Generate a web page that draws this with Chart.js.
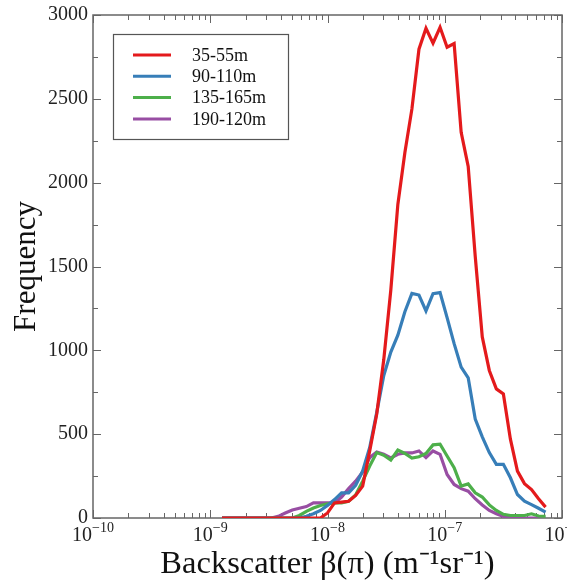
<!DOCTYPE html>
<html>
<head>
<meta charset="utf-8">
<script src="https://cdn.jsdelivr.net/npm/chart.js@4.4.0/dist/chart.umd.min.js"></script>
<style>
  html, body { margin: 0; padding: 0; background: #fff; }
  #wrap { position: relative; width: 567px; height: 585px; }
</style>
</head>
<body>
<div id="wrap"><canvas id="chart"></canvas></div>
<script>
// bin centres, as log10 of backscatter
const binExp = [
  -9.02, -8.96, -8.90, -8.84, -8.78, -8.72, -8.66, -8.60, -8.54, -8.48,
  -8.42, -8.36, -8.30, -8.24, -8.18, -8.12, -8.06, -8.00, -7.94, -7.88,
  -7.82, -7.76, -7.70, -7.64, -7.58, -7.52, -7.46, -7.40, -7.34, -7.28,
  -7.22, -7.16, -7.10, -7.04, -6.98, -6.92, -6.86, -6.80, -6.74, -6.68,
  -6.62, -6.56, -6.50, -6.44, -6.38, -6.32, -6.26, -6.20, -6.14, -6.08
];

const seriesNames = ["35-55m", "90-110m", "135-165m", "190-120m"];
const seriesColors = ["#e41a1c", "#377eb8", "#4daf4a", "#984ea3"];

const freq35 = [
  null, null, 0, 0, 0, 0, 0, 0, 0, 0,
  0, 0, 0, 0, 0, 0, 0, 30, 90, 95,
  100, 135, 190, 400, 620, 945, 1360, 1870, 2180, 2440,
  2796, 2921, 2832, 2927, 2808, 2830, 2300, 2097, 1560, 1080,
  880, 770, 740, 470, 280, 205, 170, 115, 65, null
];
const freq90 = [
  null, null, 0, 0, 0, 0, 0, 0, 0, 0,
  0, 0, 0, 0, 10, 25, 45, 75, 110, 150,
  150, 195, 280, 420, 630, 850, 990, 1090, 1230, 1340,
  1330, 1235, 1338, 1344, 1195, 1040, 900, 836, 590, 484,
  390, 320, 320, 240, 140, 100, 80, 58, 35, null
];
const freq135 = [
  null, null, 0, 0, 0, 0, 0, 0, 0, 0,
  0, 0, 0, 15, 40, 60, 75, 85, 90, 90,
  100, 137, 220, 310, 390, 375, 346, 405, 385, 358,
  365, 385, 436, 440, 370, 300, 190, 203, 150, 125,
  78, 45, 22, 15, 15, 15, 25, 12, 10, null
];
const freq190 = [
  null, null, 0, 0, 0, 0, 0, 0, 0, 0,
  10, 30, 48, 58, 68, 90, 90, 90, 90, 125,
  175, 220, 275, 360, 394, 380, 358, 380, 388, 388,
  400, 360, 400, 380, 260, 200, 175, 160, 115, 78,
  45, 25, 10, 5, 0, 0, 0, 0, 0, null
];

const xDecades = [-10, -9, -8, -7, -6];
const yTickValues = [0, 500, 1000, 1500, 2000, 2500, 3000];

const serif = "'Liberation Serif', 'Times New Roman', serif";

const toPoints = (vals) => binExp.map((e, i) => ({ x: Math.pow(10, e), y: vals[i] }));

const allSeries = [freq35, freq90, freq135, freq190];

// box round the plot with inward ticks on every side
const frameTicks = {
  id: "frameTicks",
  beforeDatasetsDraw(chart) {
    const { ctx, chartArea: a, scales } = chart;
    const xs = scales.x, ys = scales.y;
    ctx.save();
    ctx.strokeStyle = "#666";
    ctx.lineWidth = 1.5;
    ctx.strokeRect(a.left, a.top, a.right - a.left, a.bottom - a.top);
    ctx.lineWidth = 1;
    ctx.beginPath();
    xDecades.forEach((e) => {
      for (let m = 1; m <= 9; m++) {
        const v = m * Math.pow(10, e);
        if (v > Math.pow(10, -6) * 1.0001) continue;
        const px = Math.round(xs.getPixelForValue(v)) + 0.5;
        const len = m === 1 ? 8 : 5;
        ctx.moveTo(px, a.bottom); ctx.lineTo(px, a.bottom - len);
        ctx.moveTo(px, a.top); ctx.lineTo(px, a.top + len);
      }
    });
    for (let v = 0; v <= 3000; v += 250) {
      const py = Math.round(ys.getPixelForValue(v)) + 0.5;
      const len = v % 500 === 0 ? 8 : 5;
      ctx.moveTo(a.left, py); ctx.lineTo(a.left + len, py);
      ctx.moveTo(a.right, py); ctx.lineTo(a.right - len, py);
    }
    ctx.stroke();

    // x tick labels as 10 with a raised exponent
    ctx.fillStyle = "#222";
    ctx.textBaseline = "alphabetic";
    ctx.textAlign = "left";
    xDecades.forEach((e) => {
      const px = xs.getPixelForValue(Math.pow(10, e));
      const exp = "\u2212" + Math.abs(e);
      ctx.font = "20px " + serif;
      const wBase = ctx.measureText("10").width;
      ctx.font = "14px " + serif;
      const wExp = ctx.measureText(exp).width;
      const x0 = px - (wBase + wExp) / 2;
      ctx.font = "20px " + serif;
      ctx.fillText("10", x0, a.bottom + 23);
      ctx.font = "14px " + serif;
      ctx.fillText(exp, x0 + wBase, a.bottom + 14);
    });
    ctx.restore();
  },
  afterDraw(chart) {
    const { ctx, chartArea: a } = chart;
    const bx = a.left + 20, by = a.top + 19, bw = 175, bh = 105;
    ctx.save();
    ctx.fillStyle = "#fff";
    ctx.fillRect(bx, by, bw, bh);
    ctx.strokeStyle = "#555";
    ctx.lineWidth = 1.2;
    ctx.strokeRect(bx + 0.5, by + 0.5, bw, bh);
    ctx.font = "18px " + serif;
    ctx.textBaseline = "middle";
    ctx.fillStyle = "#111";
    chart.data.datasets.forEach((ds, i) => {
      const y = by + 21 + i * 21.3;
      ctx.strokeStyle = ds.borderColor;
      ctx.lineWidth = 3;
      ctx.beginPath();
      ctx.moveTo(bx + 20, y); ctx.lineTo(bx + 58, y);
      ctx.stroke();
      ctx.fillText(ds.label, bx + 79, y + 1);
    });
    ctx.restore();
  }
};

new Chart(document.getElementById("chart"), {
  type: "line",
  data: {
    datasets: allSeries.map((vals, i) => ({
      label: seriesNames[i],
      data: toPoints(vals),
      borderColor: seriesColors[i],
      backgroundColor: seriesColors[i],
      borderWidth: 3.2,
      pointRadius: 0,
      tension: 0,
      fill: false
    }))
  },
  options: {
    responsive: true,
    maintainAspectRatio: false,
    animation: false,
    layout: { padding: { top: 15, right: 5, left: 0, bottom: 0 } },
    plugins: { legend: { display: false }, tooltip: { enabled: false } },
    scales: {
      x: {
        type: "logarithmic",
        min: 1e-10,
        max: 1e-6,
        grid: { display: false, drawTicks: false },
        border: { display: false },
        afterBuildTicks: (scale) => {
          scale.ticks = xDecades.map((e) => ({ value: Math.pow(10, e) }));
        },
        afterFit: (scale) => {
          scale.height = 67;
          scale.paddingLeft = 0;
          scale.paddingRight = 0;
        },
        ticks: {
          autoSkip: false,
          maxRotation: 0,
          padding: 5,
          color: "rgba(0,0,0,0)",
          font: { family: serif, size: 20 },
          callback: () => ""
        },
        title: {
          display: true,
          text: "Backscatter \u03B2(\u03C0) (m\u207B\u00B9sr\u207B\u00B9)",
          color: "#111",
          font: { family: serif, size: 32.5, lineHeight: 1 },
          padding: { top: 0, bottom: 4 }
        }
      },
      y: {
        min: 0,
        max: 3000,
        grid: { display: false, drawTicks: false },
        border: { display: false },
        afterBuildTicks: (scale) => {
          scale.ticks = yTickValues.map((v) => ({ value: v }));
        },
        afterFit: (scale) => {
          scale.width = 93;
          scale.paddingTop = 0;
          scale.paddingBottom = 0;
        },
        ticks: {
          padding: 5,
          color: "#222",
          font: { family: serif, size: 20 },
          callback: (v) => String(v)
        },
        title: {
          display: true,
          text: "Frequency",
          color: "#111",
          font: { family: serif, size: 31, lineHeight: 1 },
          padding: { top: 11, bottom: 0 }
        }
      }
    }
  },
  plugins: [frameTicks]
});
</script>
</body>
</html>
